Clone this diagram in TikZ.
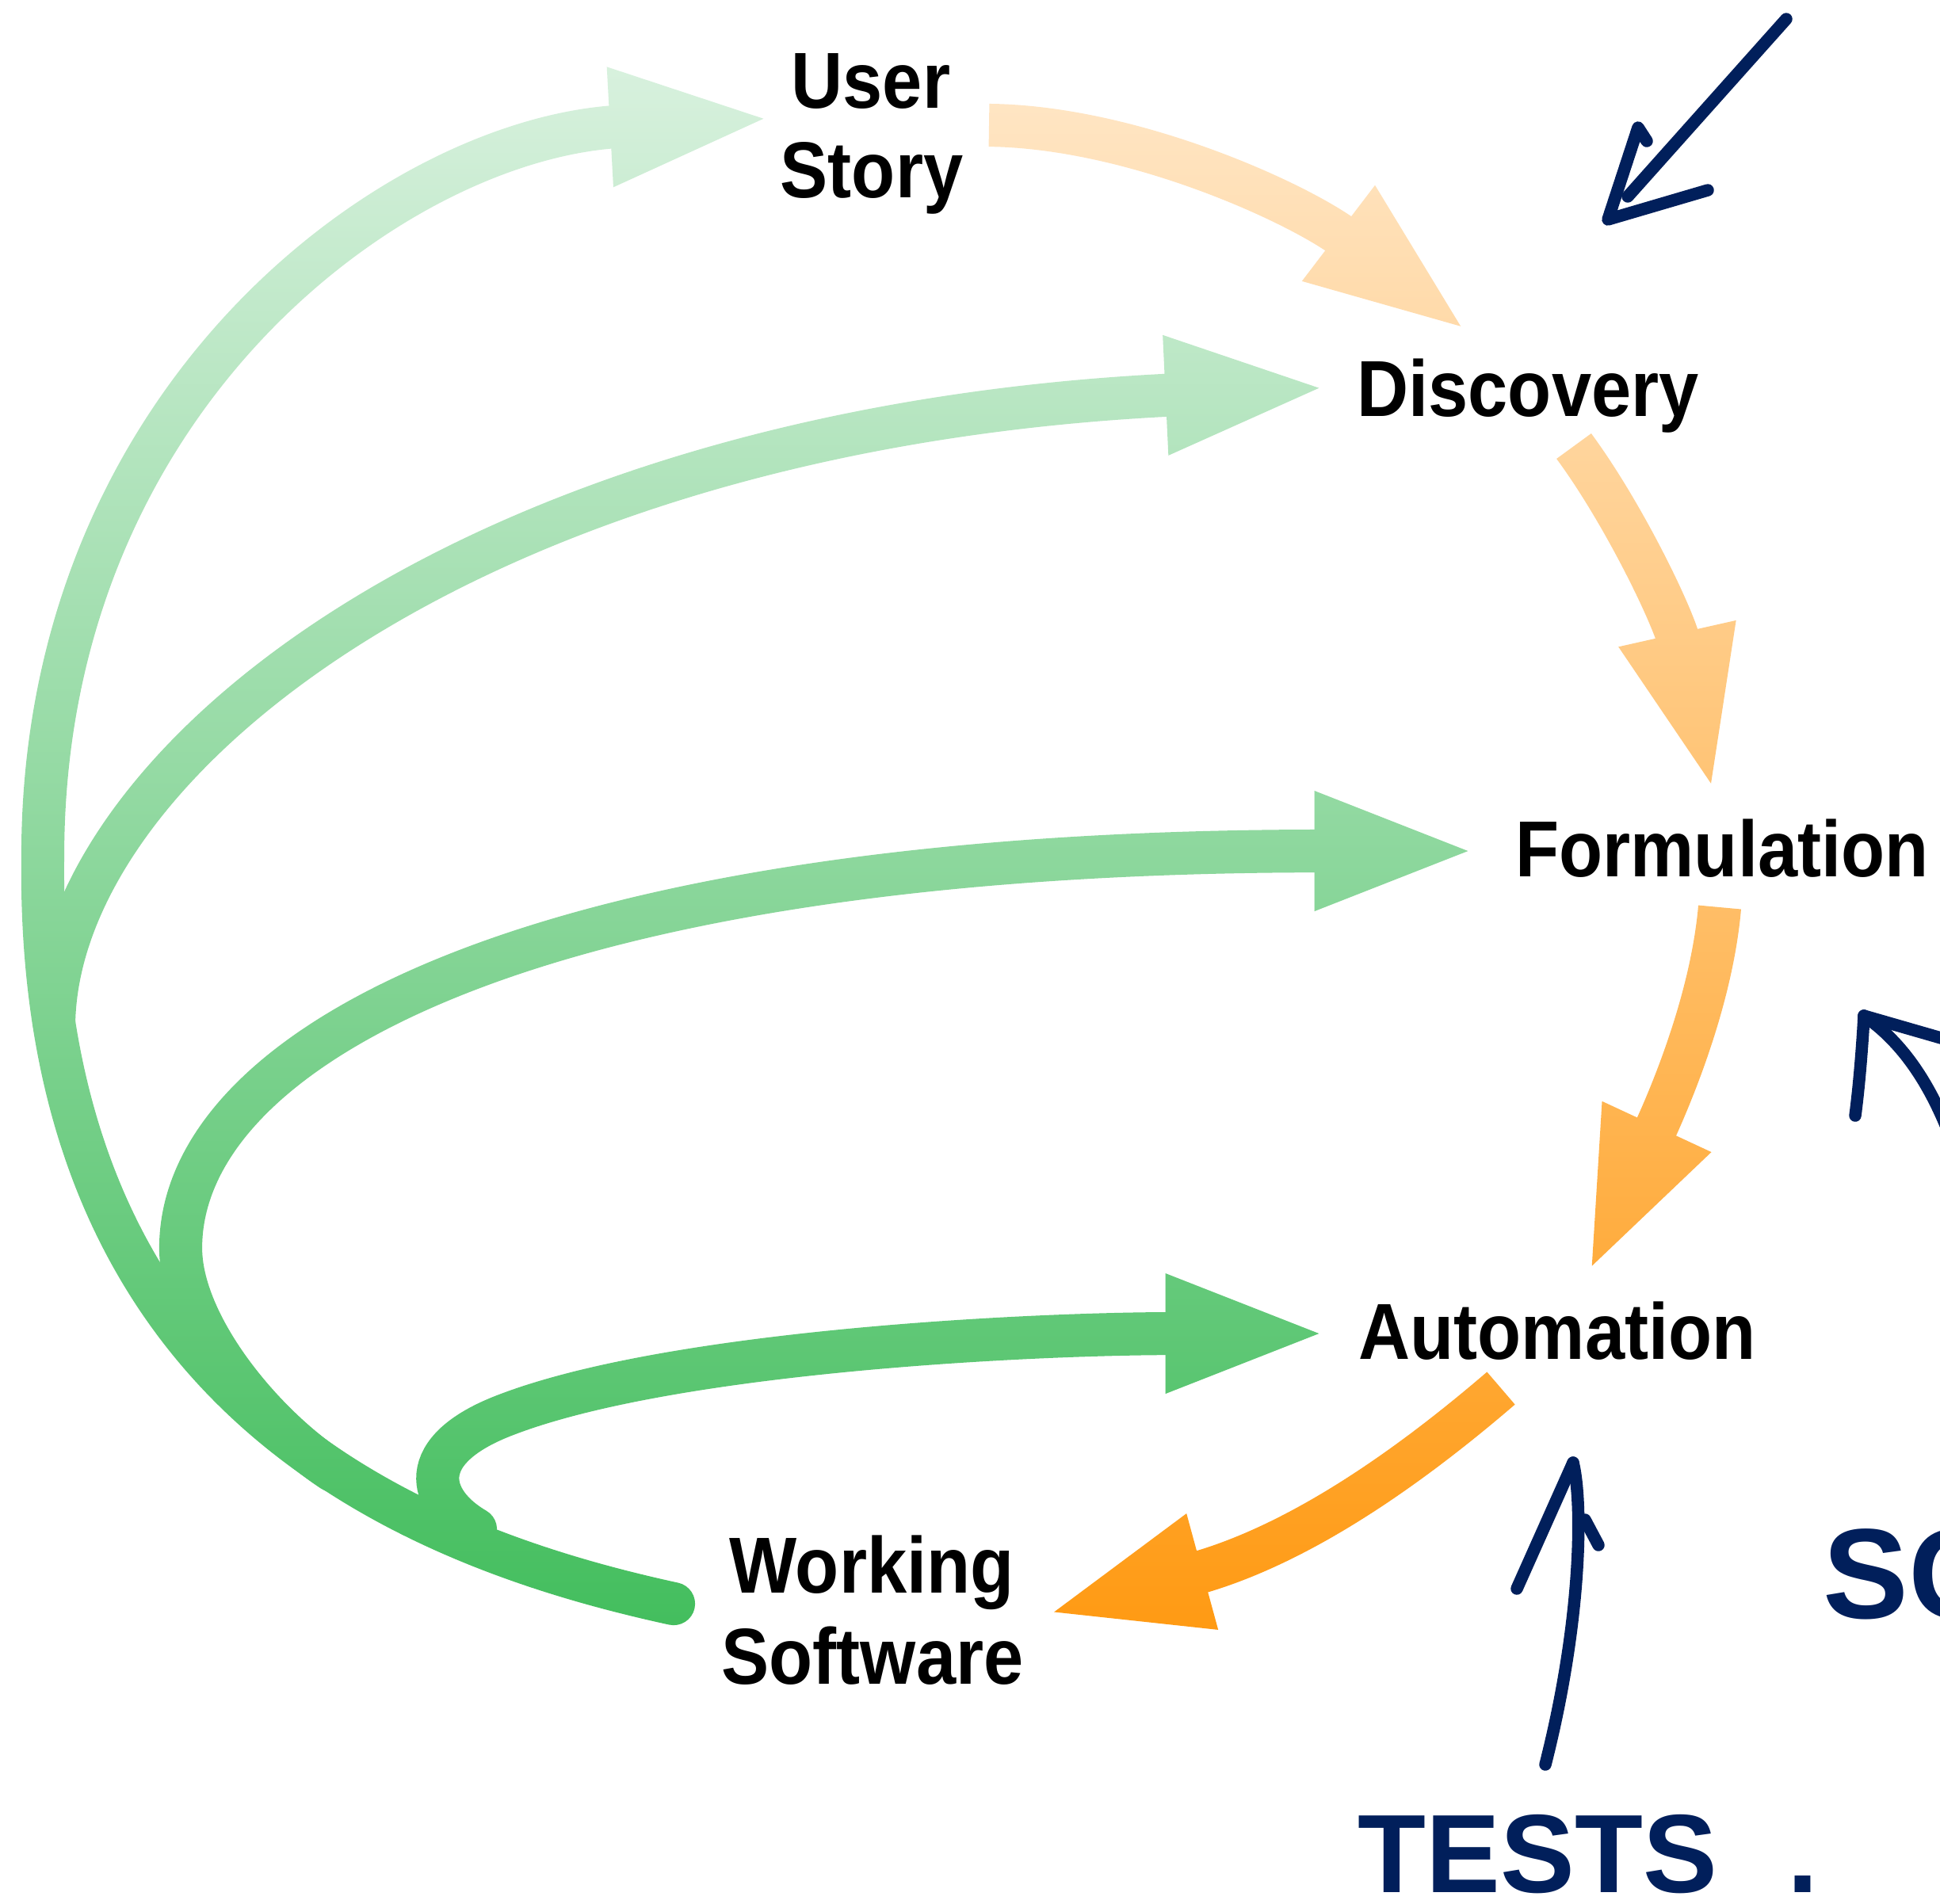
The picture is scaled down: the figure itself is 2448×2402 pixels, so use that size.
\documentclass[border=0pt]{standalone}
\usepackage{tikz}
\usepackage{fontspec}
\setmainfont{Liberation Sans}
\newfontfamily\labfont{Liberation Sans}[FakeStretch=0.9]
\newfontfamily\handfont{Liberation Sans}
\usetikzlibrary{arrows.meta,fadings}
\definecolor{gtop}{RGB}{222,243,227}
\definecolor{gbot}{RGB}{41,181,71}
\definecolor{otop}{RGB}{255,229,195}
\definecolor{obot}{RGB}{255,146,0}
\definecolor{navy}{RGB}{1,31,91}
\tikzset{
  fat/.style={draw=transparent!0, line width=15.4pt},
  gline/.style={fat, line cap=round},
  oline/.style={fat, line cap=butt},
  bigtip/.style={-{Triangle[length=59pt,width=38pt]}},
  lab/.style={font=\labfont\bfseries\fontsize{28.5}{34}\selectfont, text=black, inner sep=0pt, anchor=base},
  hand/.style={font=\handfont\bfseries\fontsize{40}{48}\selectfont, text=navy, inner sep=0pt, anchor=base west},
  ink/.style={draw=navy, line width=4.4pt, line cap=round, line join=round},
}
\begin{document}%
\begin{tikzfadingfrompicture}[name=greenmask,x=0.01cm,y=-0.01cm]
\useasboundingbox (0,0) rectangle (2448,2402);
\coordinate (sE) at (850,2024);
\coordinate (usT) at (977,149);
\coordinate (dS) at (68,1290);
\coordinate (dT) at (1678,489);
\coordinate (fS) at (420,1856);
\coordinate (fT) at (1866,1074);
\coordinate (aS) at (600,1930);
\coordinate (aT) at (1678,1683);
\draw[gline,bigtip] (sE) .. controls (510,1950) and (45,1760) .. (54,1080) .. controls (54,500) and (500,175) .. (usT);
\draw[gline,bigtip] (dS) .. controls (75,960) and (600,540) .. (dT);
\draw[gline,bigtip] (fS) .. controls (330,1797) and (228,1672) .. (228,1575) .. controls (228,1325) and (666,1074) .. (fT);
\draw[gline,bigtip] (aS) .. controls (540,1895) and (520,1830) .. (640,1785) .. controls (850,1705) and (1300,1683) .. (aT);
\end{tikzfadingfrompicture}%
\begin{tikzfadingfrompicture}[name=orangemask,x=0.01cm,y=-0.01cm]
\useasboundingbox (0,0) rectangle (2448,2402);
\coordinate (o1S) at (1248,158);
\coordinate (o1T) at (1854,420);
\coordinate (o2S) at (1986,563);
\coordinate (o2T) at (2162,1002);
\coordinate (o3S) at (2170,1145);
\coordinate (o3T) at (2003,1610);
\coordinate (o4S) at (1894,1752);
\coordinate (o4T) at (1317,2038);
\draw[oline,bigtip] (o1S) .. controls (1430,160) and (1640,257) .. (o1T);
\draw[oline,bigtip] (o2S) .. controls (2050,650) and (2112,780) .. (o2T);
\draw[oline,bigtip] (o3S) .. controls (2160,1260) and (2110,1380) .. (o3T);
\draw[oline,bigtip] (o4S) .. controls (1780,1850) and (1640,1950) .. (o4T);
\end{tikzfadingfrompicture}%
\begin{tikzpicture}[x=0.01cm,y=-0.01cm]
\useasboundingbox (0,0) rectangle (2448,2402);
\fill[white] (0,0) rectangle (2448,2402);
\shade[path fading=greenmask, fit fading=false, fading transform={shift={(1224,1201)}}, top color=gtop, bottom color=gbot] (0,0) rectangle (2448,2402);
\shade[path fading=orangemask, fit fading=false, fading transform={shift={(1224,1201)}}, top color=otop, bottom color=obot] (0,130) rectangle (2448,2272);
% labels
\node[lab] (user) at (1099,136) {User};
\node[lab] (story) at (1100,249.5) {Story};
\node[lab] (disc) at (1928,525) {Discovery};
\node[lab] (form) at (2173,1106.6) {Formulation};
\node[lab] (auto) at (1965,1715) {Automation};
\node[lab] (work) at (1100,2010) {Working};
\node[lab] (soft) at (1101,2125) {Software};
% handwritten notes
\node[hand] (tests) at (1713,2388) {TESTS\ \hspace{14pt}.};
\node[hand, font=\handfont\bfseries\fontsize{46}{54}\selectfont] (sc) at (2300,2042) {SC};
% top-right arrow
\draw[ink] (2254,24) -- (2054,248);
\draw[ink] (2078,178) -- (2067,161) -- (2029,277) -- (2155,240);
% bottom arrow
\coordinate (bT) at (1985,1846);
\draw[ink] (bT) .. controls (1998,1900) and (1995,2050) .. (1950,2227);
\draw[ink] (bT) -- (1914,2005);
\draw[ink] (2000,1918) -- (2017,1950);
% right arrow
\coordinate (rT) at (2352,1282);
\draw[ink] (2341,1408) .. controls (2346,1370) and (2350,1320) .. (rT);
\draw[ink] (rT) -- (2470,1316);
\draw[ink] (rT) .. controls (2400,1315) and (2440,1370) .. (2470,1460);
\end{tikzpicture}%
\end{document}
